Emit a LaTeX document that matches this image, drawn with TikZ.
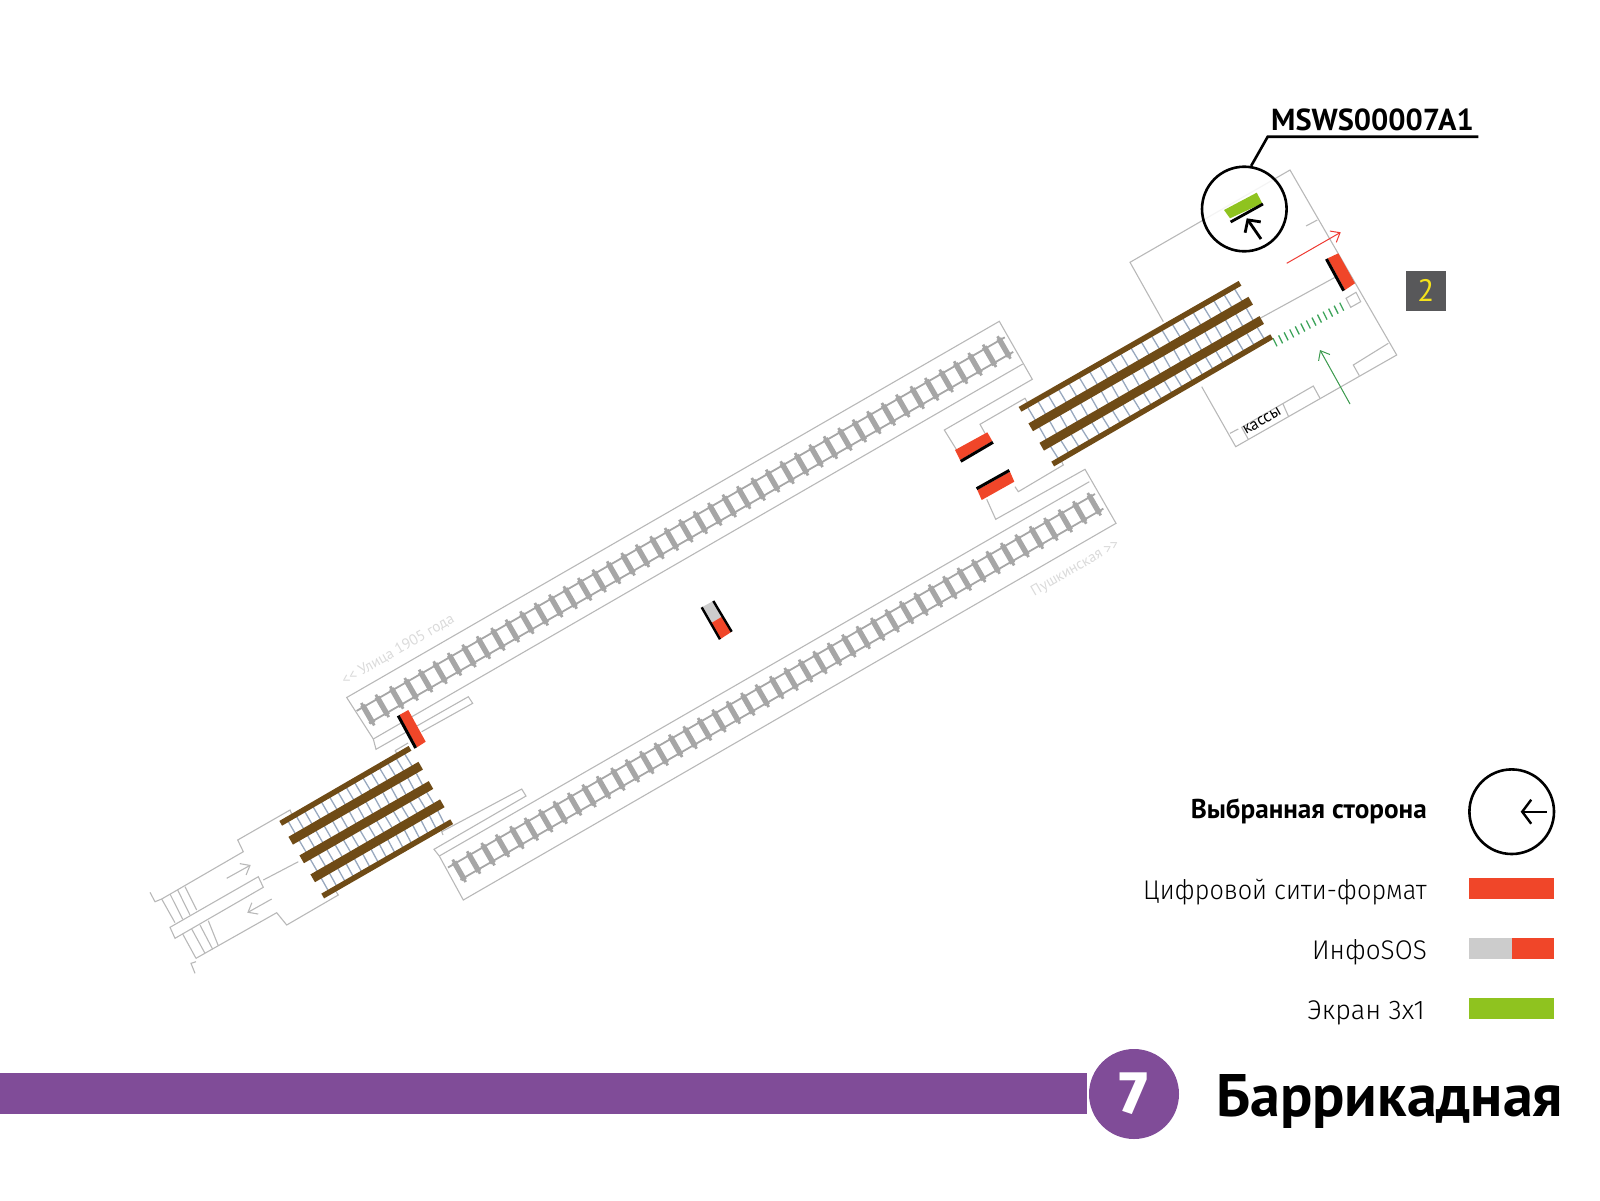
\documentclass[tikz,border=0pt]{standalone}
\usepackage{graphicx}
\usepackage{fontspec}
\setmainfont{PT Sans}
\newfontfamily\lightf{Fira Sans Light}
\newfontfamily\heavyf{Fira Sans ExtraBold}
\usetikzlibrary{calc,arrows.meta}
\definecolor{wall}{HTML}{B8B8B8}
\definecolor{brownrail}{HTML}{6F4B16}
\definecolor{rungc}{HTML}{98A8BE}
\definecolor{sleeper}{HTML}{A6A6A6}
\definecolor{redad}{HTML}{F04629}
\definecolor{greenad}{HTML}{8FC31F}
\definecolor{greyad}{HTML}{CCCCCC}
\definecolor{linepurple}{HTML}{804C98}
\definecolor{boxgrey}{HTML}{58585A}
\definecolor{yellowd}{HTML}{F5E21B}
\definecolor{dirlabel}{HTML}{DADADA}
\definecolor{tickgreen}{HTML}{3DA35A}
\definecolor{arrowgreen}{HTML}{3C9A4E}
\definecolor{arrowred}{HTML}{EE3B33}
\tikzset{
  wallline/.style={draw=wall,line width=1.1pt,line join=miter},
  thinrail/.style={draw=brownrail,line width=5.5pt},
  fatrail/.style={draw=brownrail,line width=9pt},
  rung/.style={draw=rungc,line width=1.3pt},
  tie/.style={draw=sleeper,line width=5.4pt},
  tietip/.style={draw=sleeper,line width=2.8pt},
  trackrail/.style={draw=sleeper,line width=1.8pt},
  barbed/.style={-{Straight Barb[length=8pt,width=13pt]}},
  dirtext/.style={text=dirlabel,font=\fontsize{15}{15}\selectfont,rotate=30,inner sep=0},
  legendtext/.style={anchor=base east,inner sep=0,font=\lightf\fontsize{27}{27}\selectfont}
}
\begin{document}
\begin{tikzpicture}[x=1pt,y=-1pt]
\useasboundingbox (0,0) rectangle (1600,1200);
% ---------- upper track pit
\draw[wallline] (373.3,739) -- (346.7,697.5) -- (999.3,321.3) -- (1032.3,379.3) -- (944.3,430) -- (956.7,450);
\draw[wallline] (373.3,739) -- (376,749.3) -- (468.3,696.7) -- (472.7,703.3) -- (421.7,731.7);
\draw[wallline] (373.3,739) -- (1022.7,364);
\draw[wallline] (985,433.3) -- (980,424.3) -- (1025,398.3) -- (1027.3,402.3);
% ---------- lower track pit
\draw[wallline] (439.3,856) -- (434,849.3) -- (526,796) -- (521.7,789) -- (441.7,831.7) -- (443,835);
\draw[wallline] (439.3,856) -- (463.3,900) -- (1116,523.3) -- (1085,469.3) -- (995.7,519.3) -- (986.7,499.3);
\draw[wallline] (439.3,856) -- (1089.3,481.7);
\draw[wallline] (1015,486.7) -- (1018.3,491.7) -- (1063.3,465) -- (1061.7,461.7);
% ---------- sleepers
\coordinate (ua) at (367.8,714.2);
\coordinate (ub) at (1004,347.5);
\coordinate (la) at (459.2,870.8);
\coordinate (lb) at (1094.2,504.2);
\foreach \p/\q in {ua/ub,la/lb}{
  \draw[trackrail] ($(\p)+(-4.2,-7.3)+(-7,4)$) -- ($(\q)+(-4.2,-7.3)+(5,-2.9)$);
  \draw[trackrail] ($(\p)+(4.2,7.3)+(-3,1.7)$) -- ($(\q)+(4.2,7.3)+(5,-2.9)$);
  \foreach \i in {0,...,44}{
    \pgfmathsetmacro{\t}{\i/44}
    \draw[tietip] ($(\p)!\t!(\q)+(-6.5,-11.2)$) -- ($(\p)!\t!(\q)+(6.5,11.2)$);
    \draw[tie] ($(\p)!\t!(\q)+(-5.2,-9)$) -- ($(\p)!\t!(\q)+(5.2,9)$);
  }
}
\node[dirtext] (ulitsa) at (398,650) {<{}< Улица 1905 года};
\node[dirtext] (pushk) at (1075.5,568.3) {Пушкинская >{}>};
% ---------- west vestibule
\draw[wallline] (291.7,814) -- (290,810) -- (237.7,840) -- (243.3,851.7) -- (161.7,899) -- (155,901.7) -- (150,892.3);
\draw[wallline] (161.7,899) -- (175,922.7);
\draw[wallline] (170,894) -- (182.7,919.3);
\draw[wallline] (177.7,890) -- (190,915);
\draw[wallline] (185,886.7) -- (196.7,910);
\draw[wallline] (170,927.3) -- (175,938.3) -- (263.3,887.3) -- (258.3,876.7) -- cycle;
\draw[wallline] (263.3,880) -- (298.3,861.7);
\draw[wallline] (182.7,934) -- (196,958.3);
\draw[wallline] (191.7,929) -- (205,953.3);
\draw[wallline] (200,925) -- (212.7,949.3);
\draw[wallline] (208.3,920.7) -- (218.3,945.7);
\draw[wallline] (196,958.3) -- (276.7,912.7) -- (286.7,925) -- (338.3,895) -- (335,890);
\draw[wallline] (196,961.7) -- (191,963.3) -- (195,973.3);
\draw[wallline] (395,750.7) -- (408,743);
\draw[wallline] (395,750.7) -- (396.7,753);
\coordinate (gra) at (226.7,878.3);
\coordinate (grb) at (250.7,865);
\coordinate (gla) at (271.7,899);
\coordinate (glb) at (247.3,912.7);
\draw[wallline,barbed] (gra) -- (grb);
\draw[wallline,barbed] (gla) -- (glb);
% ---------- west escalators
\coordinate (wa1) at (280.7,823.3); \coordinate (wb1) at (410,748.3);
\coordinate (wa2) at (290.7,840.7); \coordinate (wb2) at (420.7,765.7);
\coordinate (wa3) at (301.7,859.3); \coordinate (wb3) at (431,785);
\coordinate (wa4) at (312.7,878.3); \coordinate (wb4) at (442.3,803.3);
\coordinate (wa5) at (322.7,896);   \coordinate (wb5) at (451.7,821.7);
\foreach \k/\m in {1/2,2/3,3/4,4/5}{
  \foreach \i in {0,...,14}{
    \pgfmathsetmacro{\t}{0.05+\i*0.9/14}
    \draw[rung] ($(wa\k)!\t!(wb\k)$) -- ($(wa\m)!\t!(wb\m)$);
  }
}
\draw[thinrail] (wa1) -- (wb1);
\draw[fatrail] (wa2) -- (wb2);
\draw[fatrail] (wa3) -- (wb3);
\draw[fatrail] (wa4) -- (wb4);
\draw[thinrail] (wa5) -- (wb5);
% ---------- east hall
\draw[wallline] (1163.3,321.7) -- (1130,262.3) -- (1290,170) -- (1396.7,355) -- (1235.7,446.7) -- (1201.7,386.7);
\draw[wallline] (1230,433.3) -- (1238.3,429);
\draw[wallline] (1248.3,439.3) -- (1241.7,427.3) -- (1313.3,386) -- (1320,398.3);
\draw[wallline] (1282.7,403.3) -- (1288.3,416);
\draw[wallline] (1359.3,375.7) -- (1353.3,365) -- (1388.3,343.3);
\draw[wallline] (1306,226) -- (1317.3,220);
\draw[wallline] (1260,318.3) -- (1335,277.3);
\draw[wallline] (1346,298.3) -- (1356,292.3) -- (1360.7,301.7) -- (1350.7,307.3) -- cycle;
\node[rotate=30,inner sep=0,font=\fontsize{16.5}{16.5}\selectfont] (kassy) at (1262,421) {кассы};
% green ticks
\foreach \i in {0,...,12}{
  \pgfmathsetmacro{\t}{\i/12}
  \draw[draw=tickgreen,line width=1.3pt] ($(1275,342.3)!\t!(1341.7,306.7)+(-2,-4)$) -- ($(1275,342.3)!\t!(1341.7,306.7)+(2,4)$);
}
\coordinate (gia) at (1350,404);
\coordinate (gib) at (1320,350);
\coordinate (rea) at (1286.7,263.3);
\coordinate (reb) at (1340.7,232.3);
\draw[draw=arrowgreen,line width=1pt,barbed] (gia) -- (gib);
\draw[draw=arrowred,line width=1pt,barbed] (rea) -- (reb);
% ---------- east escalators
\coordinate (ea1) at (1020,409.3);   \coordinate (eb1) at (1240,283.3);
\coordinate (ea2) at (1030.7,427.3); \coordinate (eb2) at (1250.7,300.7);
\coordinate (ea3) at (1041.7,446.7); \coordinate (eb3) at (1261.7,320);
\coordinate (ea4) at (1052.7,464);   \coordinate (eb4) at (1271.7,336.7);
\foreach \k/\m in {1/2,2/3,3/4}{
  \foreach \i in {0,...,20}{
    \pgfmathsetmacro{\t}{0.03+\i*0.94/20}
    \draw[rung] ($(ea\k)!\t!(eb\k)$) -- ($(ea\m)!\t!(eb\m)$);
  }
}
\draw[thinrail] (ea1) -- (eb1);
\draw[fatrail] (ea2) -- (eb2);
\draw[fatrail] (ea3) -- (eb3);
\draw[thinrail] (ea4) -- (eb4);
% ---------- ad positions
% west
\fill[redad] (399.3,715) -- (408.3,710) -- (425.7,741.7) -- (417,747.3) -- cycle;
\draw[black,line width=3pt] (398.2,715.7) -- (415.7,748);
% info SOS
\fill[greyad] (701.7,607.3) -- (713.3,601) -- (722.5,616.3) -- (710.8,623.3) -- cycle;
\fill[redad] (710.8,623.3) -- (722.5,616.3) -- (731.7,631.7) -- (720,639.3) -- cycle;
\draw[black,line width=2.4pt] (701.7,607.3) -- (720,639.3);
\draw[black,line width=2.4pt] (713.3,601) -- (731.7,631.7);
% hall pair
\fill[redad] (955,450) -- (987.3,432.3) -- (992.3,441) -- (960,460) -- cycle;
\draw[black,line width=3pt] (960.7,461.3) -- (993,442.3);
\fill[redad] (977.3,490) -- (1010,471.7) -- (1014.3,481.7) -- (981.7,500) -- cycle;
\draw[black,line width=3pt] (976.6,488.7) -- (1009.3,470.4);
% east
\fill[redad] (1327.7,258.3) -- (1338.3,253.3) -- (1355,283.3) -- (1345,290) -- cycle;
\draw[black,line width=3pt] (1326.4,259) -- (1343.7,290.7);
% ---------- callout
\node[circle,minimum size=84.6pt,inner sep=0,draw=black,line width=2.6pt,fill=white,fill opacity=.85] (pick) at (1244.3,209) {};
\fill[greenad] (1224,210) -- (1256.7,192.7) -- (1262.3,203.3) -- (1230,218.3) -- cycle;
\draw[black,line width=2.8pt] (1230.6,222) -- (1263,204);
\coordinate (paa) at (1261,239);
\coordinate (pab) at (1246.7,218.3);
\draw[black,line width=2.8pt,-{Straight Barb[length=9pt,width=19pt]}] (paa) -- (pab);
\coordinate (lead) at (1267.7,136.7);
\coordinate (leadend) at (1478.3,136.7);
\draw[black,line width=2.6pt] (pick.81) -- (lead) -- (leadend);
\node[anchor=base west,inner sep=0,font=\bfseries\fontsize{30.4}{30.4}\selectfont] (code) at (1271,130.7) {MSWS00007A1};
% door number
\node[fill=boxgrey,minimum size=40pt,inner sep=0,text=yellowd,font=\fontsize{31}{31}\selectfont] (num) at (1425.7,290.7) {2};
% ---------- legend
\node[anchor=base east,inner sep=0,font=\bfseries\fontsize{27.2}{27.2}\selectfont] (l1) at (1427,818.3) {Выбранная сторона};
\node[legendtext] (l2) at (1427,899) {\scalebox{.935}[1]{Цифровой сити-формат}};
\node[legendtext] (l3) at (1427,959) {\scalebox{.965}[1]{ИнфоSOS}};
\node[legendtext] (l4) at (1425,1019) {Экран 3х1};
\node[circle,minimum size=84.6pt,inner sep=0,draw=black,line width=2.6pt] (side) at (1511.7,811.7) {};
\coordinate (saa) at (1546.7,811.7);
\coordinate (sab) at (1520.7,811.7);
\draw[black,line width=2.4pt,-{Straight Barb[length=9pt,width=24pt]}] (saa) -- (sab);
\fill[redad] (1469.3,878.3) rectangle (1554,899);
\fill[greyad] (1469.3,938.3) rectangle (1511.7,959.3);
\fill[redad] (1511.7,938.3) rectangle (1554,959.3);
\fill[greenad] (1469.3,998.3) rectangle (1554,1019);
% ---------- line bar
\fill[linepurple] (0,1073) rectangle (1087,1114);
\node[circle,minimum size=90pt,inner sep=0,fill=linepurple,text=white,font=\heavyf\fontsize{60}{60}\selectfont] (line) at (1134,1094) {\raisebox{-1.5pt}{7}};
\node[anchor=base west,inner sep=0,font=\bfseries\fontsize{60}{60}\selectfont] (station) at (1216,1116.7) {Баррикадная};
\end{tikzpicture}
\end{document}
